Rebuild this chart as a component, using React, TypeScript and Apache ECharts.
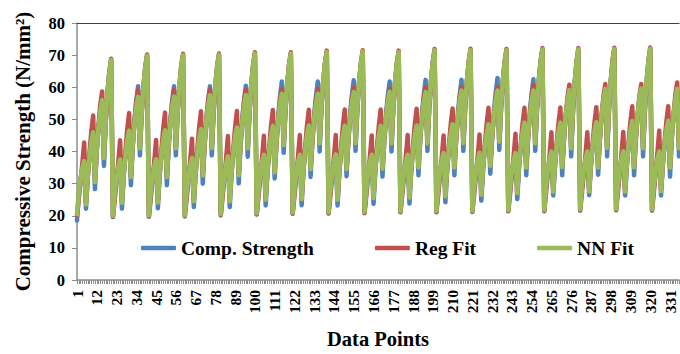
import React, { useEffect, useRef } from "react";
import * as echarts from "echarts";

// Comp. Strength (blue) — one row per cycle of 20 data points
const compCycles: number[][] = [
  [18.5, 26.8, 31.4, 34.6, 36.0, 22.2, 32.0, 38.6, 43.1, 45.5, 28.3, 40.4, 47.7, 52.6, 55.8, 35.5, 49.7, 58.5, 64.5, 68.4],
  [19.6, 26.7, 31.6, 34.9, 36.5, 22.2, 32.5, 39.1, 43.6, 46.0, 29.5, 41.7, 50.0, 55.8, 60.3, 38.8, 52.0, 60.4, 66.1, 69.7],
  [19.7, 26.8, 31.7, 35.0, 36.6, 22.3, 32.6, 39.2, 43.7, 46.1, 29.5, 41.8, 50.1, 55.8, 60.3, 38.8, 52.1, 60.5, 66.2, 69.9],
  [19.8, 27.0, 32.0, 35.4, 37.0, 22.7, 33.0, 39.6, 44.1, 46.5, 30.0, 42.2, 50.3, 56.0, 60.3, 38.8, 52.2, 60.6, 66.3, 70.0],
  [20.1, 27.4, 32.4, 35.9, 37.5, 22.7, 33.2, 39.9, 44.5, 47.0, 30.1, 42.3, 50.5, 56.1, 60.5, 38.4, 52.3, 60.9, 66.7, 70.4],
  [20.4, 27.8, 32.9, 36.3, 38.0, 23.2, 33.7, 40.4, 45.0, 47.5, 31.6, 43.0, 51.3, 57.1, 61.8, 39.6, 52.9, 61.2, 66.8, 70.4],
  [20.6, 27.9, 32.9, 36.4, 38.0, 23.3, 33.8, 40.5, 45.1, 47.6, 32.1, 43.6, 51.6, 57.3, 61.8, 40.0, 53.4, 61.7, 67.3, 70.9],
  [20.7, 28.0, 33.0, 36.5, 38.1, 23.2, 33.7, 40.4, 45.0, 47.5, 32.3, 43.8, 51.9, 57.6, 62.2, 40.2, 53.5, 61.8, 67.4, 71.0],
  [20.8, 28.0, 33.0, 36.4, 38.0, 23.7, 34.0, 40.6, 45.1, 47.5, 32.2, 43.9, 51.9, 57.4, 61.8, 40.0, 53.4, 61.7, 67.3, 70.9],
  [21.1, 28.2, 33.1, 36.4, 38.0, 23.8, 34.1, 40.7, 45.2, 47.6, 32.6, 44.1, 52.1, 57.7, 62.3, 40.2, 53.6, 62.0, 67.7, 71.4],
  [21.1, 28.4, 33.4, 36.9, 38.5, 24.2, 34.5, 41.1, 45.6, 48.0, 32.6, 44.3, 52.3, 57.9, 62.3, 40.2, 53.7, 62.1, 67.8, 71.5],
  [21.2, 28.5, 33.5, 37.0, 38.6, 24.7, 34.8, 41.3, 45.6, 48.0, 33.1, 44.6, 52.7, 58.2, 62.9, 40.5, 53.9, 62.2, 67.8, 71.4],
  [21.4, 28.6, 33.5, 36.9, 38.5, 25.2, 35.3, 41.8, 46.1, 48.5, 32.6, 44.3, 52.3, 58.0, 62.5, 40.2, 53.7, 62.2, 68.0, 71.7],
  [21.4, 28.8, 33.9, 37.3, 39.0, 26.3, 35.6, 41.9, 46.2, 48.5, 32.6, 44.4, 51.3, 55.7, 58.6, 38.5, 52.8, 61.7, 67.8, 71.7],
  [21.6, 28.9, 33.9, 37.4, 39.0, 26.4, 35.7, 42.0, 46.3, 48.6, 32.8, 44.5, 51.6, 56.0, 59.0, 38.5, 52.9, 61.8, 67.9, 71.8],
  [21.7, 29.0, 34.0, 37.5, 39.1, 26.3, 35.8, 42.3, 46.6, 49.0, 32.6, 44.6, 51.7, 56.1, 59.0, 38.5, 52.9, 61.9, 68.0, 71.9],
  [21.6, 28.9, 33.9, 37.4, 39.0, 26.3, 35.9, 42.4, 46.7, 49.1, 32.2, 44.5, 51.6, 56.0, 59.0, 38.5],
];

// Reg Fit (red)
const regCycles: number[][] = [
  [20.2, 25.2, 30.8, 36.5, 42.8, 24.0, 32.2, 39.8, 46.3, 51.2, 30.8, 40.0, 48.4, 54.8, 58.7, 38.0, 49.1, 58.4, 64.9, 68.9],
  [19.7, 24.9, 30.9, 36.8, 43.5, 24.5, 32.8, 40.5, 47.1, 52.0, 32.3, 41.2, 49.2, 55.4, 59.2, 41.0, 51.5, 60.3, 66.4, 70.2],
  [19.8, 25.0, 31.0, 36.9, 43.6, 24.6, 32.9, 40.6, 47.2, 52.1, 32.4, 41.2, 49.3, 55.4, 59.2, 41.0, 51.6, 60.4, 66.6, 70.4],
  [19.9, 25.2, 31.2, 37.3, 44.0, 25.0, 33.3, 41.0, 47.6, 52.5, 32.8, 41.5, 49.5, 55.6, 59.3, 41.1, 51.7, 60.5, 66.7, 70.5],
  [20.2, 25.6, 31.8, 37.9, 44.8, 25.0, 33.3, 41.0, 47.6, 52.6, 32.9, 41.6, 49.5, 55.6, 59.3, 41.0, 51.8, 60.7, 67.0, 70.9],
  [20.5, 25.9, 32.0, 38.1, 44.9, 25.5, 33.7, 41.4, 48.0, 52.9, 33.8, 42.2, 49.9, 55.8, 59.4, 42.0, 52.4, 61.1, 67.1, 70.9],
  [20.7, 26.1, 32.2, 38.3, 45.1, 25.6, 33.8, 41.5, 48.1, 53.0, 34.8, 43.0, 50.4, 56.0, 59.5, 42.5, 52.9, 61.6, 67.6, 71.4],
  [20.8, 26.1, 32.2, 38.3, 45.1, 25.5, 33.8, 41.5, 48.1, 53.1, 34.8, 43.1, 50.6, 56.4, 59.9, 42.6, 53.0, 61.7, 67.7, 71.5],
  [20.9, 26.2, 32.2, 38.3, 45.0, 26.0, 34.1, 41.7, 48.2, 53.1, 34.9, 43.0, 50.4, 56.1, 59.5, 42.5, 52.9, 61.6, 67.6, 71.4],
  [21.2, 26.5, 32.4, 38.4, 45.1, 26.1, 34.3, 41.9, 48.4, 53.3, 35.3, 43.5, 50.9, 56.5, 60.0, 42.5, 53.1, 61.9, 68.1, 71.9],
  [21.2, 26.4, 32.4, 38.3, 45.0, 26.5, 34.6, 42.1, 48.6, 53.4, 35.3, 43.5, 50.9, 56.5, 60.0, 42.6, 53.2, 62.0, 68.2, 72.0],
  [21.3, 26.6, 32.6, 38.6, 45.3, 27.0, 35.0, 42.4, 48.8, 53.6, 35.8, 43.8, 51.0, 56.6, 60.0, 43.0, 53.4, 62.1, 68.1, 71.9],
  [21.5, 26.8, 32.8, 38.8, 45.5, 27.5, 35.3, 42.6, 48.9, 53.6, 35.3, 43.7, 51.4, 57.2, 60.8, 42.5, 53.2, 62.1, 68.3, 72.2],
  [21.5, 26.9, 33.0, 39.1, 46.0, 28.0, 35.7, 42.9, 49.1, 53.7, 35.3, 43.7, 51.4, 57.2, 60.8, 41.0, 52.2, 61.6, 68.1, 72.2],
  [21.7, 27.0, 33.1, 39.2, 46.0, 28.0, 35.7, 43.0, 49.2, 53.8, 35.3, 43.8, 51.5, 57.4, 61.0, 41.0, 52.3, 61.7, 68.2, 72.3],
  [21.8, 27.1, 33.2, 39.3, 46.1, 28.0, 35.8, 43.1, 49.4, 54.1, 35.3, 43.8, 51.5, 57.4, 61.0, 41.0, 52.3, 61.7, 68.3, 72.4],
  [21.7, 27.2, 33.4, 39.6, 46.5, 28.0, 35.8, 43.1, 49.4, 54.1, 35.3, 43.9, 51.8, 57.8, 61.5, 41.0],
];

// NN Fit (green)
const nnCycles: number[][] = [
  [20.5, 27.1, 31.7, 34.9, 37.0, 23.5, 32.5, 38.8, 43.1, 46.0, 30.5, 40.7, 47.8, 52.7, 56.0, 38.0, 50.2, 58.7, 64.5, 68.5],
  [20.0, 27.0, 31.9, 35.2, 37.5, 24.0, 33.0, 39.3, 43.6, 46.5, 32.0, 42.0, 49.0, 53.8, 57.0, 41.0, 52.5, 60.6, 66.1, 69.8],
  [20.1, 27.1, 32.0, 35.3, 37.6, 24.1, 33.1, 39.4, 43.7, 46.6, 32.1, 42.1, 49.1, 53.9, 57.1, 41.0, 52.6, 60.7, 66.2, 70.0],
  [20.2, 27.3, 32.3, 35.7, 38.0, 24.5, 33.5, 39.8, 44.1, 47.0, 32.5, 42.5, 49.5, 54.3, 57.5, 41.1, 52.7, 60.8, 66.3, 70.1],
  [20.5, 27.7, 32.7, 36.2, 38.5, 24.5, 33.7, 40.1, 44.5, 47.5, 32.6, 42.6, 49.6, 54.4, 57.6, 41.0, 52.8, 61.1, 66.7, 70.5],
  [20.8, 28.1, 33.2, 36.6, 39.0, 25.0, 34.2, 40.6, 45.0, 48.0, 33.5, 43.3, 50.2, 54.8, 58.0, 42.0, 53.4, 61.4, 66.8, 70.5],
  [21.0, 28.2, 33.2, 36.7, 39.0, 25.1, 34.3, 40.7, 45.1, 48.1, 34.5, 43.9, 50.5, 55.0, 58.0, 42.5, 53.9, 61.9, 67.3, 71.0],
  [21.1, 28.3, 33.3, 36.8, 39.1, 25.0, 34.2, 40.6, 45.0, 48.0, 34.5, 44.1, 50.8, 55.4, 58.5, 42.6, 54.0, 62.0, 67.4, 71.1],
  [21.2, 28.3, 33.3, 36.7, 39.0, 25.5, 34.5, 40.8, 45.1, 48.0, 34.6, 44.2, 50.9, 55.5, 58.6, 42.5, 53.9, 61.9, 67.3, 71.0],
  [21.5, 28.5, 33.4, 36.7, 39.0, 25.6, 34.6, 40.9, 45.2, 48.1, 35.0, 44.4, 51.0, 55.4, 58.5, 42.5, 54.1, 62.2, 67.7, 71.5],
  [21.5, 28.7, 33.7, 37.2, 39.5, 26.0, 35.0, 41.3, 45.6, 48.5, 35.0, 44.6, 51.3, 55.9, 59.0, 42.6, 54.2, 62.3, 67.8, 71.6],
  [21.6, 28.8, 33.8, 37.3, 39.6, 26.5, 35.3, 41.5, 45.6, 48.5, 35.5, 44.9, 51.5, 55.9, 59.0, 43.0, 54.4, 62.4, 67.8, 71.5],
  [21.8, 28.9, 33.8, 37.2, 39.5, 27.0, 35.8, 42.0, 46.1, 49.0, 35.0, 44.6, 51.3, 55.9, 59.0, 42.5, 54.2, 62.4, 68.0, 71.8],
  [21.8, 29.1, 34.2, 37.6, 40.0, 27.5, 36.1, 42.1, 46.2, 49.0, 35.1, 44.7, 51.4, 56.0, 59.1, 41.0, 53.3, 61.9, 67.8, 71.8],
  [22.0, 29.2, 34.2, 37.7, 40.0, 27.6, 36.2, 42.2, 46.3, 49.1, 35.0, 44.8, 51.7, 56.3, 59.5, 41.1, 53.4, 62.0, 67.9, 71.9],
  [22.1, 29.3, 34.3, 37.8, 40.1, 27.5, 36.3, 42.5, 46.6, 49.5, 35.1, 44.9, 51.8, 56.4, 59.6, 41.0, 53.4, 62.1, 68.0, 72.0],
  [22.0, 29.2, 34.2, 37.7, 40.0, 27.6, 36.4, 42.6, 46.7, 49.6, 35.0, 44.8, 51.7, 56.3, 59.5, 41.0],
];

const compStrength = compCycles.flat();
const regFit = regCycles.flat();
const nnFit = nnCycles.flat();
const categories = compStrength.map((_, i) => String(i + 1));

const seriesNames = ["Comp. Strength", "Reg Fit", "NN Fit"];
const seriesColors = ["#4F81BD", "#C0504D", "#9BBB59"];

const FONT = '"Liberation Serif", "Times New Roman", serif';

export default function App() {
  const ref = useRef<HTMLDivElement>(null);

  useEffect(() => {
    if (!ref.current) return;
    const chart = echarts.init(ref.current, null, { renderer: "svg" });
    const datasets = [compStrength, regFit, nnFit];
    chart.setOption({
      animation: false,
      backgroundColor: "#ffffff",
      textStyle: { fontFamily: FONT },
      grid: { left: 77, right: 1, top: 23, bottom: 71, containLabel: false },
      legend: {
        data: seriesNames,
        left: 141,
        top: 238,
        padding: 0,
        icon: "roundRect",
        itemWidth: 35,
        itemHeight: 4.5,
        itemGap: 61,
        textStyle: {
          fontFamily: FONT,
          fontSize: 19.5,
          fontWeight: "bold",
          color: "#000",
          lineHeight: 20,
        },
      },
      xAxis: [
        {
          type: "category",
          data: categories,
          boundaryGap: false,
          name: "Data Points",
          nameLocation: "middle",
          nameGap: 48,
          nameTextStyle: { fontFamily: FONT, fontSize: 20.5, fontWeight: "bold", color: "#000" },
          axisLine: { lineStyle: { color: "#8c8c8c", width: 1.5 } },
          axisTick: { interval: 0, length: 4, lineStyle: { color: "#8c8c8c", width: 1 } },
          axisLabel: {
            interval: 10,
            rotate: 90,
            margin: 10,
            fontFamily: FONT,
            fontSize: 15.5,
            fontWeight: "bold",
            color: "#000",
          },
          splitLine: { show: false },
        },
        {
          type: "category",
          data: categories,
          boundaryGap: false,
          position: "top",
          axisLine: { lineStyle: { color: "#404040", width: 1.2 } },
          axisTick: { show: false },
          axisLabel: { show: false },
          splitLine: { show: false },
        },
      ],
      yAxis: {
        type: "value",
        min: 0,
        max: 80,
        interval: 10,
        name: "Compressive Strength (N/mm²)",
        nameLocation: "middle",
        nameGap: 44,
        nameRotate: 90,
        nameTextStyle: { fontFamily: FONT, fontSize: 21, fontWeight: "bold", color: "#000" },
        axisLine: { show: true, lineStyle: { color: "#8c8c8c", width: 1.5 } },
        axisTick: { show: true, length: 5, lineStyle: { color: "#8c8c8c" } },
        axisLabel: { margin: 12, fontFamily: FONT, fontSize: 16.5, fontWeight: "bold", color: "#000" },
        splitLine: { show: false },
      },
      series: datasets.map((d, k) => ({
        name: seriesNames[k],
        type: "line",
        data: d,
        xAxisIndex: 0,
        symbol: "none",
        z: 2 + k,
        itemStyle: { color: seriesColors[k] },
        lineStyle: { color: seriesColors[k], width: 4.5, cap: "round", join: "round" },
      })),
    });
    return () => chart.dispose();
  }, []);

  return (
    <div
      ref={ref}
      style={{ position: "absolute", left: 0, top: 0, width: 680, height: 354 }}
    />
  );
}
